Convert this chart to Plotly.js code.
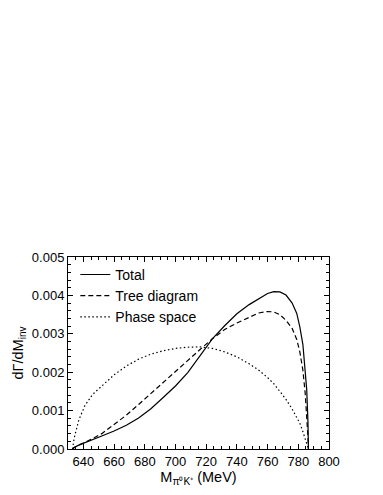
<!DOCTYPE html>
<html>
<head>
<meta charset="utf-8">
<script src="https://cdn.plot.ly/plotly-3.0.1.min.js"></script>
<style>
  html, body { margin: 0; padding: 0; background: #fff; }
  #chart { width: 383px; height: 495px; }
</style>
</head>
<body>
<div id="chart"></div>
<script>
// invariant mass (MeV)
var mass = [633, 634, 637, 641, 646, 652, 660, 668, 676, 684, 692, 700, 708, 716,
            724, 732, 740, 748, 754, 760, 764, 768, 772, 776, 779, 781, 783, 784.5,
            785.5, 786.3, 786.6];

var total = [0, 0.00004, 0.0001, 0.00016, 0.00024, 0.00034, 0.00047, 0.00062, 0.00081,
             0.00105, 0.00134, 0.00164, 0.00199, 0.00244, 0.00287, 0.00321, 0.00352,
             0.00376, 0.00391, 0.00405, 0.0041, 0.00409, 0.00401, 0.0038, 0.00353,
             0.00318, 0.00272, 0.0021, 0.00154, 0.0007, 0];

var tree = [0, 0.00004, 0.0001, 0.00017, 0.00027, 0.0004, 0.00063, 0.00088, 0.00116,
            0.00145, 0.00174, 0.00201, 0.0023, 0.00259, 0.00287, 0.00311, 0.00328,
            0.00344, 0.00354, 0.00358, 0.00357, 0.0035, 0.00335, 0.00314, 0.00285,
            0.00253, 0.00205, 0.00145, 0.0009, 0.0003, 0];

var phase = [0, 0.00028, 0.00075, 0.00113, 0.00142, 0.00165, 0.00193, 0.00216, 0.00234,
             0.00247, 0.00256, 0.00262, 0.00265, 0.00266, 0.00262, 0.00253, 0.0024,
             0.00222, 0.00206, 0.00186, 0.0017, 0.0015, 0.00129, 0.00104, 0.00084,
             0.00067, 0.00045, 0.00028, 0.00013, 0.00004, 0];

var yTicks = [0, 0.001, 0.002, 0.003, 0.004, 0.005];
var yTickText = ['0.000', '0.001', '0.002', '0.003', '0.004', '0.005'];

var font = 'Liberation Sans, Arial, sans-serif';

var data = [
    {x: mass, y: total, type: 'scatter', mode: 'lines', name: 'Total',
     line: {color: '#000', width: 1.2}},
    {x: mass, y: tree, type: 'scatter', mode: 'lines', name: 'Tree diagram',
     line: {color: '#000', width: 1.2, dash: '5px,3px'}},
    {x: mass, y: phase, type: 'scatter', mode: 'lines', name: 'Phase space',
     line: {color: '#000', width: 1.2, dash: '1.5px,2.5px'}}
];

var axisCommon = {
    showline: true, linecolor: '#000', linewidth: 1, mirror: 'ticks',
    ticks: 'inside', ticklen: 5, tickcolor: '#000', tickwidth: 1,
    showgrid: false, zeroline: false,
    tickfont: {family: font, size: 13, color: '#000'}
};

var layout = {
    width: 383, height: 495,
    margin: {l: 68, r: 54, t: 257, b: 46},
    paper_bgcolor: '#fff', plot_bgcolor: '#fff',
    showlegend: true,
    legend: {x: 0.028, y: 0.99, xanchor: 'left', yanchor: 'top',
             bgcolor: 'rgba(0,0,0,0)', tracegroupgap: 0,
             font: {family: font, size: 14, color: '#000'}},
    xaxis: Object.assign({}, axisCommon, {
        range: [630, 800], dtick: 20, tick0: 640,
        minor: {dtick: 5, ticks: 'inside', ticklen: 3, tickcolor: '#000'},
        title: {text: 'M<sub>π⁰K⁺</sub> (MeV)', standoff: 2,
                font: {family: font, size: 14.5, color: '#000'}}
    }),
    yaxis: Object.assign({}, axisCommon, {
        range: [0, 0.005], tickvals: yTicks, ticktext: yTickText,
        minor: {dtick: 0.0002, ticks: 'inside', ticklen: 3, tickcolor: '#000'},
        title: {text: 'dΓ/dM<sub>inv</sub>', standoff: 4,
                font: {family: font, size: 14.5, color: '#000'}}
    })
};

Plotly.newPlot('chart', data, layout, {displayModeBar: false, staticPlot: true});
</script>
</body>
</html>
